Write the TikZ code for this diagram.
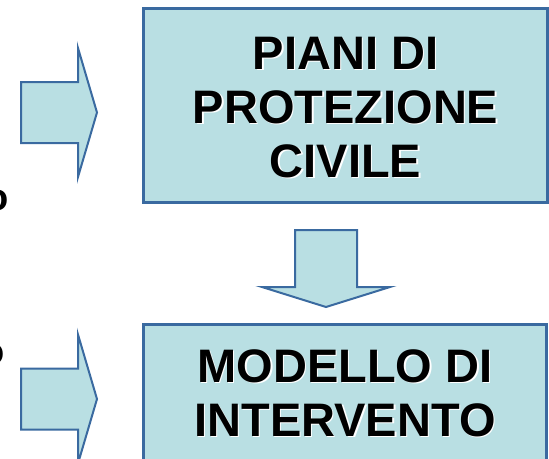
\documentclass[tikz,border=0pt]{standalone}
\usepackage{fontspec}
\setmainfont{Liberation Sans}
\usetikzlibrary{positioning}
\usetikzlibrary{calc}
\definecolor{boxfill}{RGB}{185,223,227}
\definecolor{boxline}{RGB}{58,106,160}
\tikzset{
  titlebox/.style={draw=boxline, line width=3pt, fill=boxfill, inner sep=0pt},
  blockarrow/.style={draw=boxline, line width=2pt, fill=boxfill, line join=miter},
  bigtext/.style={font=\fontsize{47}{54}\selectfont\bfseries, align=center, inner sep=0pt},
  bigshadow/.style={bigtext, text=white},
  cuttext/.style={font=\fontsize{38}{40}\selectfont\bfseries, anchor=base east, inner sep=0pt}
}

\begin{document}
\begin{tikzpicture}[x=1pt,y=-1pt]
  \useasboundingbox (0,0) rectangle (549,458);
  % the two boxes
  \node[titlebox, minimum width=404pt, minimum height=194pt, anchor=north west] (piani) at (142,7) {};
  \node[titlebox, minimum width=403pt, minimum height=160pt, anchor=north west] (modello) at (142,323) {};
  % texts, with a light shadow
  \coordinate (pianitxt) at ($(piani.center)+(0,2)$);
  \coordinate (modellotxt) at ($(modello.north)+(0,70)$);
  \node[bigshadow] at ($(pianitxt)+(1.5,1.5)$) {PIANI DI\\PROTEZIONE\\CIVILE};
  \node[bigtext] (pianilabel) at (pianitxt) {PIANI DI\\PROTEZIONE\\CIVILE};
  \node[bigshadow] at ($(modellotxt)+(1.5,1.5)$) {MODELLO DI\\INTERVENTO};
  \node[bigtext] (modellolabel) at (modellotxt) {MODELLO DI\\INTERVENTO};
  % cut words on the left edge
  \node[cuttext] (cutA) at (9,210.5) {o};
  \node[cuttext] (cutB) at (4.5,364) {o};
  % arrows pointing right
  \foreach \yc in {112.5,399}
    \draw[blockarrow] (21,\yc-30.5) -- (78,\yc-30.5) -- (78,\yc-64.5) -- (97,\yc)
      -- (78,\yc+64.5) -- (78,\yc+30.5) -- (21,\yc+30.5) -- cycle;
  % arrow pointing down
  \draw[blockarrow] (295,230) -- (357,230) -- (357,287) -- (390,287) -- (326,307)
    -- (262,287) -- (295,287) -- cycle;
\end{tikzpicture}
\end{document}
